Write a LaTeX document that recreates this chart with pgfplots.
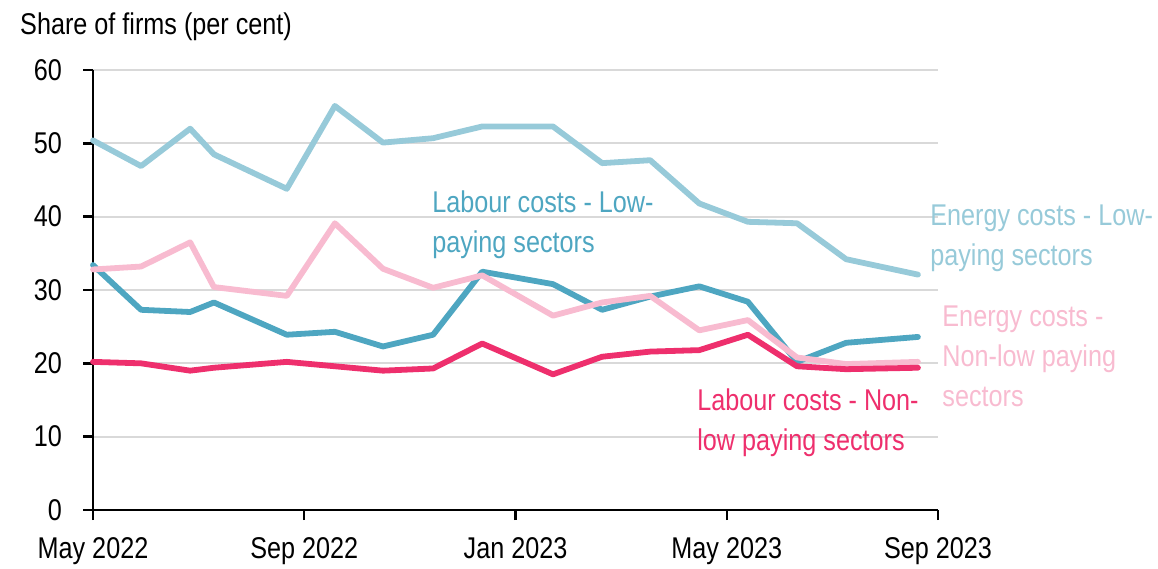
\documentclass[border=0pt]{standalone}
\usepackage{fontspec}
\setmainfont{Liberation Sans}[FakeStretch=0.84]
\usepackage{pgfplots}
\pgfplotsset{compat=1.18}

\definecolor{energyLow}{HTML}{97CAD9}
\definecolor{labourLow}{HTML}{4EA6C1}
\definecolor{energyNon}{HTML}{F8BBD0}
\definecolor{labourNon}{HTML}{EE2F6D}
\definecolor{gridgray}{HTML}{D9D9D9}

% x = months since May 2022 (survey waves)
\pgfplotstableread{
x     enlow labl  ennon labnon
0.00  50.4  33.4  32.8  20.2
0.91  46.9  27.3  33.2  20.0
1.84  52.0  27.0  36.5  19.0
2.29  48.5  28.3  30.4  19.4
3.67  43.8  23.9  29.2  20.2
4.58  55.1  24.3  39.1  19.6
5.49  50.1  22.3  32.9  19.0
6.44  50.7  23.9  30.3  19.3
7.37  52.3  32.5  32.0  22.7
8.71  52.3  30.8  26.5  18.5
9.64  47.3  27.3  28.3  20.9
10.55 47.7  29.1  29.2  21.6
11.48 41.8  30.5  24.5  21.8
12.40 39.3  28.4  25.9  23.9
13.33 39.1  20.2  20.8  19.6
14.26 34.2  22.8  19.9  19.2
15.62 32.1  23.6  20.2  19.4
}\data

\begin{document}
\fontsize{30pt}{40pt}\selectfont
\begin{tikzpicture}
\useasboundingbox (-93pt,-58pt) rectangle (1065pt,510pt);
\begin{axis}[
  at={(0pt,0pt)}, anchor=south west,
  scale only axis, width=845pt, height=440pt,
  xmin=0, xmax=16, ymin=0, ymax=60,
  xtick={0,4,8,12,16},
  xticklabels={May 2022,Sep 2022,Jan 2023,May 2023,Sep 2023},
  ytick={0,10,...,60},
  axis x line*=bottom, axis y line*=left,
  axis line style={line width=2.8pt, black, -},
  tick align=outside, major tick length=10pt,
  tick style={black, line width=2.4pt},
  ymajorgrids, grid style={line width=2pt, gridgray},
  /pgf/number format/assume math mode=true,
  ticklabel style={font=\fontsize{30pt}{34pt}\selectfont},
  xticklabel style={yshift=-7pt},
  yticklabel style={xshift=-11pt},
  clip=false,
  every axis plot/.style={line width=5.8pt, line join=round, line cap=round, mark=none},
]
\addplot[energyLow] table[x=x, y=enlow] {\data};
\addplot[labourLow] table[x=x, y=labl] {\data};
\addplot[energyNon] table[x=x, y=ennon] {\data};
\addplot[labourNon] table[x=x, y=labnon] {\data};

\node[anchor=west, align=left, inner sep=0, text=labourLow,
  font=\fontsize{30pt}{40pt}\selectfont] at (axis cs:6.42,38.9)
  {Labour costs - Low-\\paying sectors};
\node[anchor=west, align=left, inner sep=0, text=energyLow,
  font=\fontsize{30pt}{40pt}\selectfont] at (axis cs:15.85,37.1)
  {Energy costs - Low-\\paying sectors};
\node[anchor=west, align=left, inner sep=0, text=energyNon,
  font=\fontsize{30pt}{40pt}\selectfont] at (axis cs:16.08,21.0)
  {Energy costs -\\Non-low paying\\sectors};
\node[anchor=west, align=left, inner sep=0, text=labourNon,
  font=\fontsize{30pt}{40pt}\selectfont] at (axis cs:11.44,11.9)
  {Labour costs - Non-\\low paying sectors};
\end{axis}
\node[anchor=base west, inner sep=0] at (-73pt,475pt) {Share of firms (per cent)};
\end{tikzpicture}
\end{document}
